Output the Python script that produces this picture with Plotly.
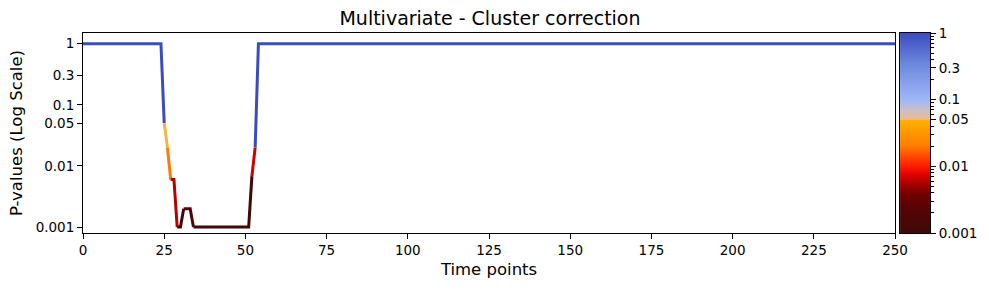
import numpy as np
import plotly.graph_objects as go
from plotly.colors import sample_colorscale

# ---- data ----
time_points = list(range(251))
p_values = ([1.0] * 25
            + [0.05, 0.02, 0.006, 0.006, 0.001, 0.001, 0.002, 0.002, 0.002]
            + [0.001] * 18
            + [0.0068, 0.02]
            + [1.0] * 197)

y_tick_vals = [0.001, 0.01, 0.05, 0.1, 0.3, 1]
y_tick_text = ["0.001", "0.01", "0.05", "0.1", "0.3", "1"]
x_tick_vals = list(range(0, 251, 25))

# ---- colour scale (position = (log10 p + 3) / 3) ----
cscale = [
    [0.0, "#3f0909"], [0.12, "#560404"], [0.19, "#700000"], [0.24, "#a00000"],
    [0.29, "#e00000"], [0.34, "#ff2000"], [0.44, "#ff8000"], [0.565, "#ffb000"],
    [0.568, "#ebbc92"], [0.62, "#c9bdcc"], [0.665, "#a0b8f8"], [0.85, "#6a88dc"],
    [1.0, "#3b4cc0"],
]

def frac(p):
    return float(np.clip((np.log10(p) + 3) / 3, 0, 1))

fig = go.Figure()

# coloured line, one run of equal colour per trace
seg_vals = []
for i in range(len(p_values) - 1):
    a, b = p_values[i], p_values[i + 1]
    seg_vals.append(b if b >= 0.5 else a)

runs = []
start = 0
for i in range(1, len(seg_vals) + 1):
    if i == len(seg_vals) or seg_vals[i] != seg_vals[start]:
        runs.append((start, i, seg_vals[start]))
        start = i
for s, e, v in runs:
    col = sample_colorscale(cscale, [frac(v)])[0]
    fig.add_trace(go.Scatter(
        x=time_points[s:e + 1], y=p_values[s:e + 1], mode="lines",
        line=dict(color=col, width=3), showlegend=False, hoverinfo="skip",
        xaxis="x", yaxis="y"))

# colour bar drawn as heatmap on its own log axis
cb_y = 10 ** np.linspace(-3, 0, 401)
cb_z = [[frac(v)] for v in cb_y]
fig.add_trace(go.Heatmap(
    x=[0.5], y=cb_y, z=cb_z, colorscale=cscale, zmin=0, zmax=1,
    showscale=False, hoverinfo="skip", xaxis="x2", yaxis="y2"))

minor_vals = []
for d in [0.001, 0.01, 0.1]:
    for k in range(2, 10):
        minor_vals.append(d * k)

font_family = "DejaVu Sans"
W, H = 989, 290
L, R, T, B = 83, 57, 33, 57
pw = W - L - R
main_end = (897 - L) / pw
cb_start = (902 - L) / pw

fig.update_layout(
    width=W, height=H,
    margin=dict(l=L, r=R, t=T, b=B),
    paper_bgcolor="white", plot_bgcolor="white",
    font=dict(family=font_family, color="black", size=14),
    title=dict(text="Multivariate - Cluster correction", x=(83 + 897) / 2 / W,
               xanchor="center", y=1 - 18 / H, yanchor="middle",
               yref="container", xref="container",
               font=dict(size=19, family=font_family, color="black")),
    xaxis=dict(domain=[0, main_end], range=[0, 250], tickvals=x_tick_vals,
               ticks="outside", ticklen=5, tickwidth=1, tickcolor="black",
               showline=True, linecolor="black", linewidth=1, mirror=True,
               showgrid=False, zeroline=False,
               tickfont=dict(size=13.5),
               title=dict(text="Time points", font=dict(size=16.5), standoff=6)),
    yaxis=dict(type="log", range=[np.log10(0.0008), np.log10(1.5)],
               tickvals=y_tick_vals, ticktext=y_tick_text,
               ticks="outside", ticklen=5, tickwidth=1, tickcolor="black",
               showline=True, linecolor="black", linewidth=1, mirror=True,
               showgrid=False, zeroline=False,
               tickfont=dict(size=13.5),
               title=dict(text="P-values (Log Scale)", font=dict(size=16.5), standoff=8)),
    xaxis2=dict(domain=[cb_start, 1], range=[0, 1], showticklabels=False,
                ticks="", showline=True, linecolor="black", linewidth=1,
                mirror=True, showgrid=False, zeroline=False, anchor="y2"),
    yaxis2=dict(type="log", range=[-3, 0], anchor="x2", side="right",
                tickvals=y_tick_vals, ticktext=y_tick_text,
                ticks="outside", ticklen=5, tickwidth=1, tickcolor="black",
                showline=True, linecolor="black", linewidth=1, mirror=True,
                showgrid=False, zeroline=False, tickfont=dict(size=13.5),
                minor=dict(tickmode="array", tickvals=minor_vals, ticks="outside",
                           ticklen=2.5, tickwidth=0.8, tickcolor="black",
                           showgrid=False)),
)

fig.write_html("out.html")
